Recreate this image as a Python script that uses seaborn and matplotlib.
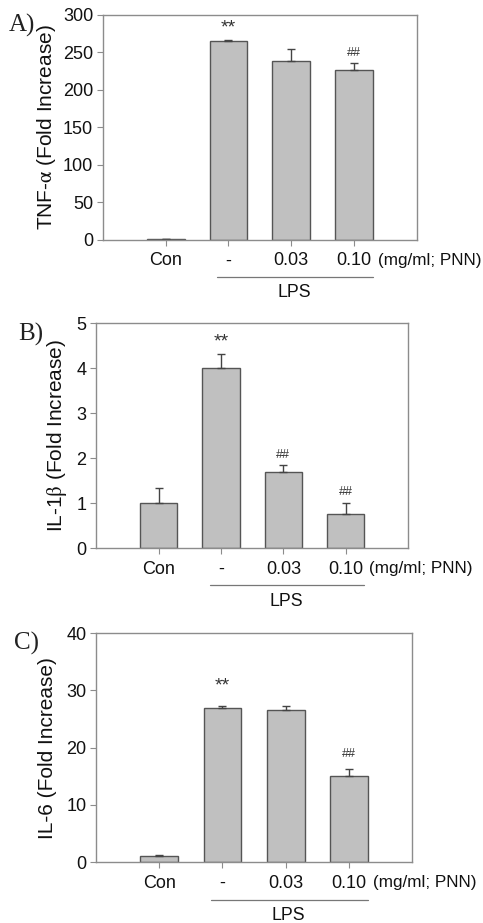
import matplotlib
matplotlib.use("Agg")
import matplotlib.pyplot as plt
import matplotlib.transforms as mtransforms
import pandas as pd
import seaborn as sns

# 데이터
groups = ["Con", "-", "0.03", "0.10"]

tnf_mean = [1, 265, 239, 227]
tnf_err = [0.5, 1.5, 16, 9]

il1b_mean = [1.0, 4.0, 1.7, 0.77]
il1b_err = [0.33, 0.32, 0.15, 0.23]

il6_mean = [1.0, 27.0, 26.5, 15.0]
il6_err = [0.2, 0.2, 0.7, 1.2]

ylabels = ["TNF-$\\mathrm{\\alpha}$ (Fold Increase)", "IL-1$\\mathrm{\\beta}$ (Fold Increase)", "IL-6 (Fold Increase)"]
panel_tags = ["A)", "B)", "C)"]
ylims = [300, 5, 40]
ystep = [50, 1, 10]
# 유의성 표시: (x 위치, y 위치, 기호)
marks_a = [(1, 283, "**"), (3, 249, "##")]
marks_b = [(1, 4.58, "**"), (2, 2.07, "##"), (3, 1.24, "##")]
marks_c = [(1, 30.7, "**"), (3, 18.9, "##")]

sns.set_theme(style="ticks")
plt.rcParams['font.family'] = ['Liberation Sans', 'DejaVu Sans']
plt.rcParams['mathtext.fontset'] = 'stix'

fig = plt.figure(figsize=(4.83, 9.23), dpi=100)

# 축 위치 (figure 비율)
boxes = [
    [0.213, 0.740, 0.650, 0.244],
    [0.199, 0.406, 0.646, 0.244],
    [0.199, 0.066, 0.654, 0.248],
]
ylab_x = [-0.178, -0.125, -0.155]
tag_pos = [(0.019, 0.972), (0.038, 0.638), (0.030, 0.303)]

spine_col = "#8c8c8c"
txt_col = "#111111"

for i, (means, errs, marks) in enumerate([(tnf_mean, tnf_err, marks_a),
                                          (il1b_mean, il1b_err, marks_b),
                                          (il6_mean, il6_err, marks_c)]):
    ax = fig.add_axes(boxes[i])
    df = pd.DataFrame({"group": groups, "value": means})
    sns.barplot(data=df, x="group", y="value", ax=ax, color="#c0c0c0",
                edgecolor="#555555", linewidth=1, width=0.6, saturation=1,
                errorbar=None)
    ax.errorbar(range(len(groups)), means, yerr=[[0] * len(errs), errs],
                fmt="none", ecolor="#444444", elinewidth=1, capsize=3, capthick=1)

    ax.set_xlim(-1, 4)
    ax.set_ylim(0, ylims[i])
    ax.set_yticks([ystep[i] * k for k in range(int(ylims[i] / ystep[i]) + 1)])
    ax.set_xticks(range(len(groups)))
    ax.set_xticklabels(groups)
    ax.set_xlabel("")
    ax.set_ylabel(ylabels[i], fontsize=15, color=txt_col)
    ax.yaxis.set_label_coords(ylab_x[i], 0.5)
    ax.yaxis.label.set_va("center")
    ax.tick_params(axis="both", direction="out", length=4, width=0.8,
                   color=spine_col, labelsize=13, labelcolor=txt_col, pad=3)
    ax.tick_params(axis="x", pad=5)
    for s in ax.spines.values():
        s.set_color(spine_col)
        s.set_linewidth(1)
        s.set_visible(True)

    for x, y, t in marks:
        fs = 14 if t == "**" else 9
        ax.text(x, y, t, ha="center", va="center", fontsize=fs, color="#333333")

    trans = mtransforms.blended_transform_factory(ax.transData, ax.transAxes)
    ax.text(3.38, -0.09, "(mg/ml; PNN)", transform=trans, ha="left", va="center",
            fontsize=12.3, color=txt_col)
    ax.plot([0.82, 3.3], [-0.165, -0.165], transform=trans, color="#777777",
            lw=0.9, clip_on=False)
    ax.text(2.05, -0.235, "LPS", transform=trans, ha="center", va="center",
            fontsize=12.8, color=txt_col)

    fig.text(tag_pos[i][0], tag_pos[i][1], panel_tags[i], fontsize=18,
             family="Liberation Serif", ha="left", va="center", color="#222222")

fig.savefig("out.png", dpi=100)
